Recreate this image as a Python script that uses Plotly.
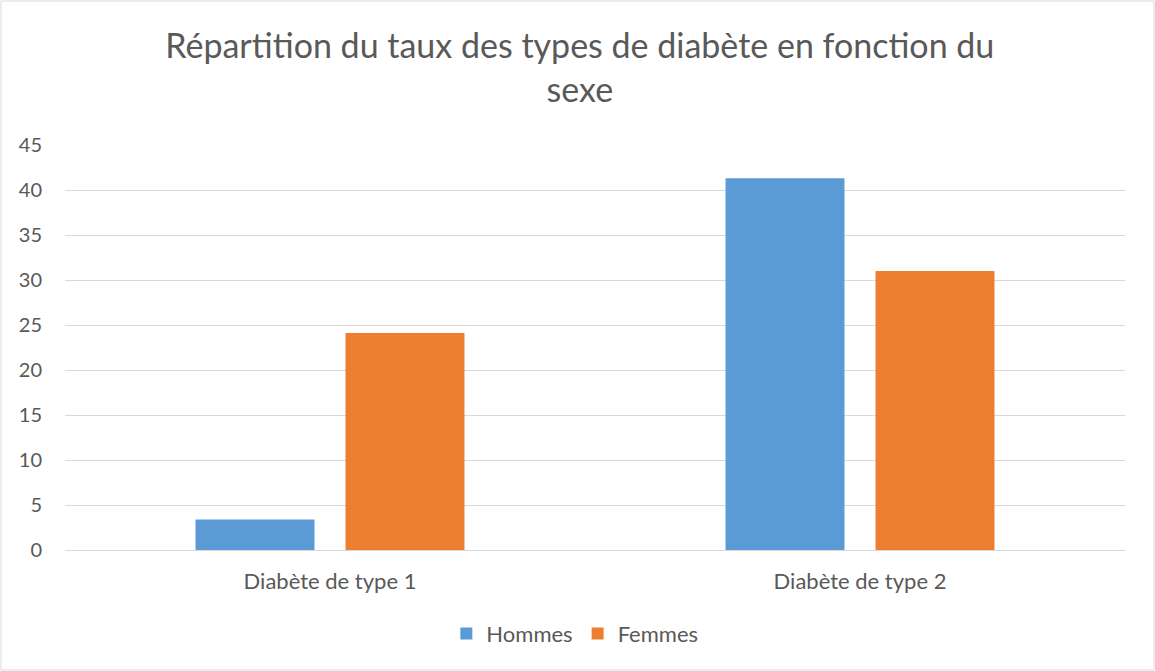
import plotly.graph_objects as go

categories = ["Diabète de type 1", "Diabète de type 2"]
hommes = [3.4, 41.3]
femmes = [24.1, 31.0]
y_ticks = [0, 5, 10, 15, 20, 25, 30, 35, 40, 45]

W, H = 1155, 671
ml, mr, mt, mb = 65, 30, 145, 121
pw, ph = W - ml - mr, H - mt - mb

font_family = "Lato, Open Sans, sans-serif"
txt = "#595959"

fig = go.Figure()
fig.add_trace(go.Bar(name="Hommes", x=categories, y=hommes, marker_color="#5b9bd5",
                     marker_line_width=0))
fig.add_trace(go.Bar(name="Femmes", x=categories, y=femmes, marker_color="#ed7d31",
                     marker_line_width=0))

fig.update_layout(
    width=W, height=H,
    margin=dict(l=ml, r=mr, t=mt, b=mb, autoexpand=False),
    paper_bgcolor="white", plot_bgcolor="white",
    barmode="group", bargap=0.434, bargroupgap=0.207,
    title=dict(text="Répartition du taux des types de diabète en fonction du<br>sexe",
               x=0.502, xanchor="center", y=0.914, yanchor="top",
               font=dict(family=font_family, size=34, color=txt)),
    font=dict(family=font_family, size=19, color=txt),
    legend=dict(orientation="h", x=0.481, xanchor="center", y=-0.155, yanchor="top",
                font=dict(size=22, color=txt), itemwidth=30, traceorder="normal"),
    xaxis=dict(showgrid=False, showline=True, linecolor="#d9d9d9", linewidth=1,
               ticks="", tickfont=dict(size=22, color=txt), ticklabelstandoff=12),
    yaxis=dict(range=[0, 45], tickvals=y_ticks, showgrid=True, gridcolor="#d9d9d9",
               gridwidth=1, zeroline=False, showline=False, ticks="",
               tickfont=dict(size=20, color=txt), ticklabelstandoff=22),
    shapes=[dict(type="rect", xref="paper", yref="paper",
                 x0=-(ml - 1) / pw, x1=1 + (mr - 1) / pw,
                 y0=-(mb - 1) / ph, y1=1 + (mt - 1) / ph,
                 line=dict(color="#d9d9d9", width=1), fillcolor="rgba(0,0,0,0)",
                 layer="below")],
)

fig.write_html("out.html", config={"displayModeBar": False},
               post_script="document.body.style.margin='0';document.body.style.padding='0';")
